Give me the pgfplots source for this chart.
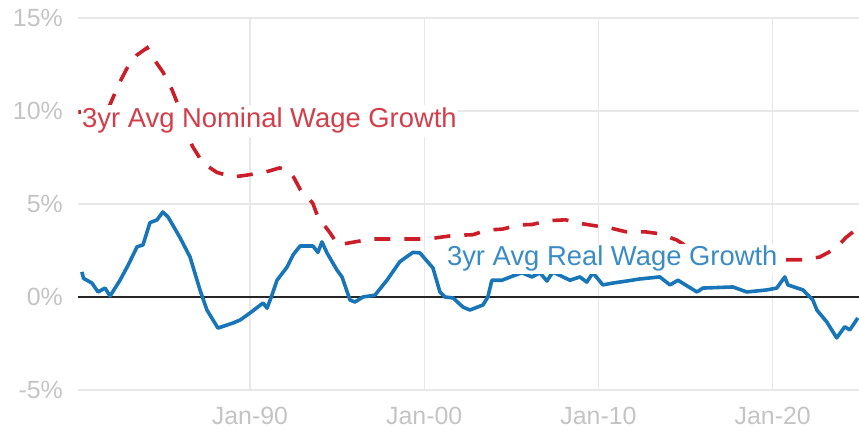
\documentclass[border=0pt]{standalone}
\usepackage{pgfplots}
\pgfplotsset{compat=1.18}
\usepackage{pgfplotstable}
\usepackage{fontspec}
\setmainfont{Liberation Sans}
\definecolor{nomred}{RGB}{204,30,40}
\definecolor{nomlab}{RGB}{210,62,74}
\definecolor{realblue}{RGB}{24,118,184}
\definecolor{reallab}{RGB}{58,140,198}
\definecolor{gridc}{RGB}{232,232,232}
\definecolor{tickc}{RGB}{196,196,196}

\pgfplotstableread{
year val
1980.35 1.35
1980.45 1.00
1980.93 0.75
1981.28 0.27
1981.68 0.48
1981.97 0.05
1982.54 0.90
1983.00 1.70
1983.52 2.70
1983.86 2.80
1984.26 4.00
1984.66 4.14
1985.00 4.57
1985.30 4.30
1985.98 3.20
1986.56 2.15
1987.13 0.38
1987.53 -0.70
1988.16 -1.67
1989.02 -1.40
1989.43 -1.24
1990.00 -0.86
1990.75 -0.32
1990.98 -0.60
1991.26 0.10
1991.55 0.90
1992.12 1.60
1992.47 2.26
1992.87 2.74
1993.61 2.74
1993.90 2.40
1994.13 2.96
1994.42 2.37
1994.99 1.45
1995.28 1.08
1995.74 -0.16
1996.02 -0.27
1996.48 0.00
1997.17 0.10
1997.86 0.90
1998.60 1.90
1999.35 2.40
1999.75 2.37
2000.50 1.56
2000.90 0.27
2001.19 0.00
2001.65 -0.05
2002.22 -0.54
2002.62 -0.70
2003.37 -0.43
2003.65 0.00
2003.88 0.90
2004.46 0.90
2005.09 1.13
2005.60 1.30
2006.18 1.08
2006.64 1.30
2007.04 0.86
2007.38 1.34
2007.96 1.08
2008.36 0.90
2008.93 1.08
2009.33 0.80
2009.68 1.30
2010.25 0.65
2010.83 0.75
2011.63 0.86
2012.38 0.97
2013.52 1.08
2014.10 0.65
2014.56 0.90
2015.65 0.27
2015.99 0.48
2017.71 0.54
2018.51 0.27
2019.66 0.38
2020.23 0.48
2020.69 1.08
2020.87 0.65
2021.73 0.38
2022.30 -0.16
2022.53 -0.70
2023.10 -1.34
2023.67 -2.20
2024.13 -1.60
2024.42 -1.77
2024.88 -1.13
}\realtab

\pgfplotstableread{
year val
1980.15 9.95
1981.00 9.90
1981.90 10.20
1982.50 11.50
1983.00 12.40
1983.50 13.00
1984.10 13.40
1984.40 12.90
1985.00 12.10
1985.50 11.20
1985.80 10.50
1986.30 9.00
1986.70 8.10
1987.30 7.20
1988.10 6.70
1989.00 6.45
1989.80 6.55
1990.90 6.72
1991.70 6.94
1992.20 6.80
1992.50 6.45
1992.90 5.75
1993.60 5.05
1993.90 4.30
1994.60 3.44
1995.05 2.80
1996.00 2.96
1997.00 3.12
1998.00 3.12
1999.00 3.12
1999.80 3.12
2000.60 3.17
2001.60 3.30
2002.80 3.35
2003.60 3.60
2004.50 3.65
2005.40 3.87
2006.20 3.90
2007.10 4.10
2008.10 4.15
2009.00 3.95
2010.00 3.80
2010.50 3.75
2011.60 3.50
2012.70 3.50
2013.50 3.40
2014.50 3.06
2015.50 2.45
2017.00 2.20
2019.00 2.00
2020.80 2.00
2021.80 2.00
2022.70 2.15
2023.60 2.60
2024.20 3.20
2024.95 3.75
}\nomtab

\begin{document}
\begin{tikzpicture}
\path[use as bounding box] (0,0) rectangle (859bp,432bp);
\begin{axis}[
  at={(78bp,42bp)}, anchor=south west,
  scale only axis, width=781bp, height=372bp,
  xmin=1980.13, xmax=2024.95, ymin=-5, ymax=15,
  axis line style={draw=none},
  tick style={draw=none},
  xtick={1990,2000,2010,2020},
  xticklabels={Jan-90,Jan-00,Jan-10,Jan-20},
  ytick={-5,0,5,10,15},
  yticklabels={-5\%,0\%,5\%,10\%,15\%},
  grid=major,
  major grid style={draw=gridc, line width=1.2bp},
  xticklabel style={font=\fontsize{25}{30}\selectfont, text=tickc, anchor=base, yshift=-35bp},
  yticklabel style={font=\fontsize{25}{30}\selectfont, text=tickc, anchor=east, inner sep=0pt, xshift=-15bp},
]
\addplot[draw=black!85, line width=1.5bp, forget plot] coordinates {(1980.13,0) (2024.95,0)};
\addplot[realblue, line width=3.6bp, line join=round] table[x=year, y=val] {\realtab};
\addplot[nomred, line width=3.6bp, dash pattern=on 16bp off 14bp] table[x=year, y=val] {\nomtab};
\node[anchor=base west, fill=white, inner xsep=1bp, inner ysep=3bp, text=nomlab, font=\fontsize{27.5}{33}\selectfont] at (axis cs:1980.30,9.09) {3yr Avg Nominal Wage Growth};
\node[anchor=base west, fill=white, inner xsep=1bp, inner ysep=2bp, text=reallab, font=\fontsize{27.5}{33}\selectfont] at (axis cs:2001.24,1.67) {3yr Avg Real Wage Growth};
\end{axis}
\end{tikzpicture}
\end{document}
